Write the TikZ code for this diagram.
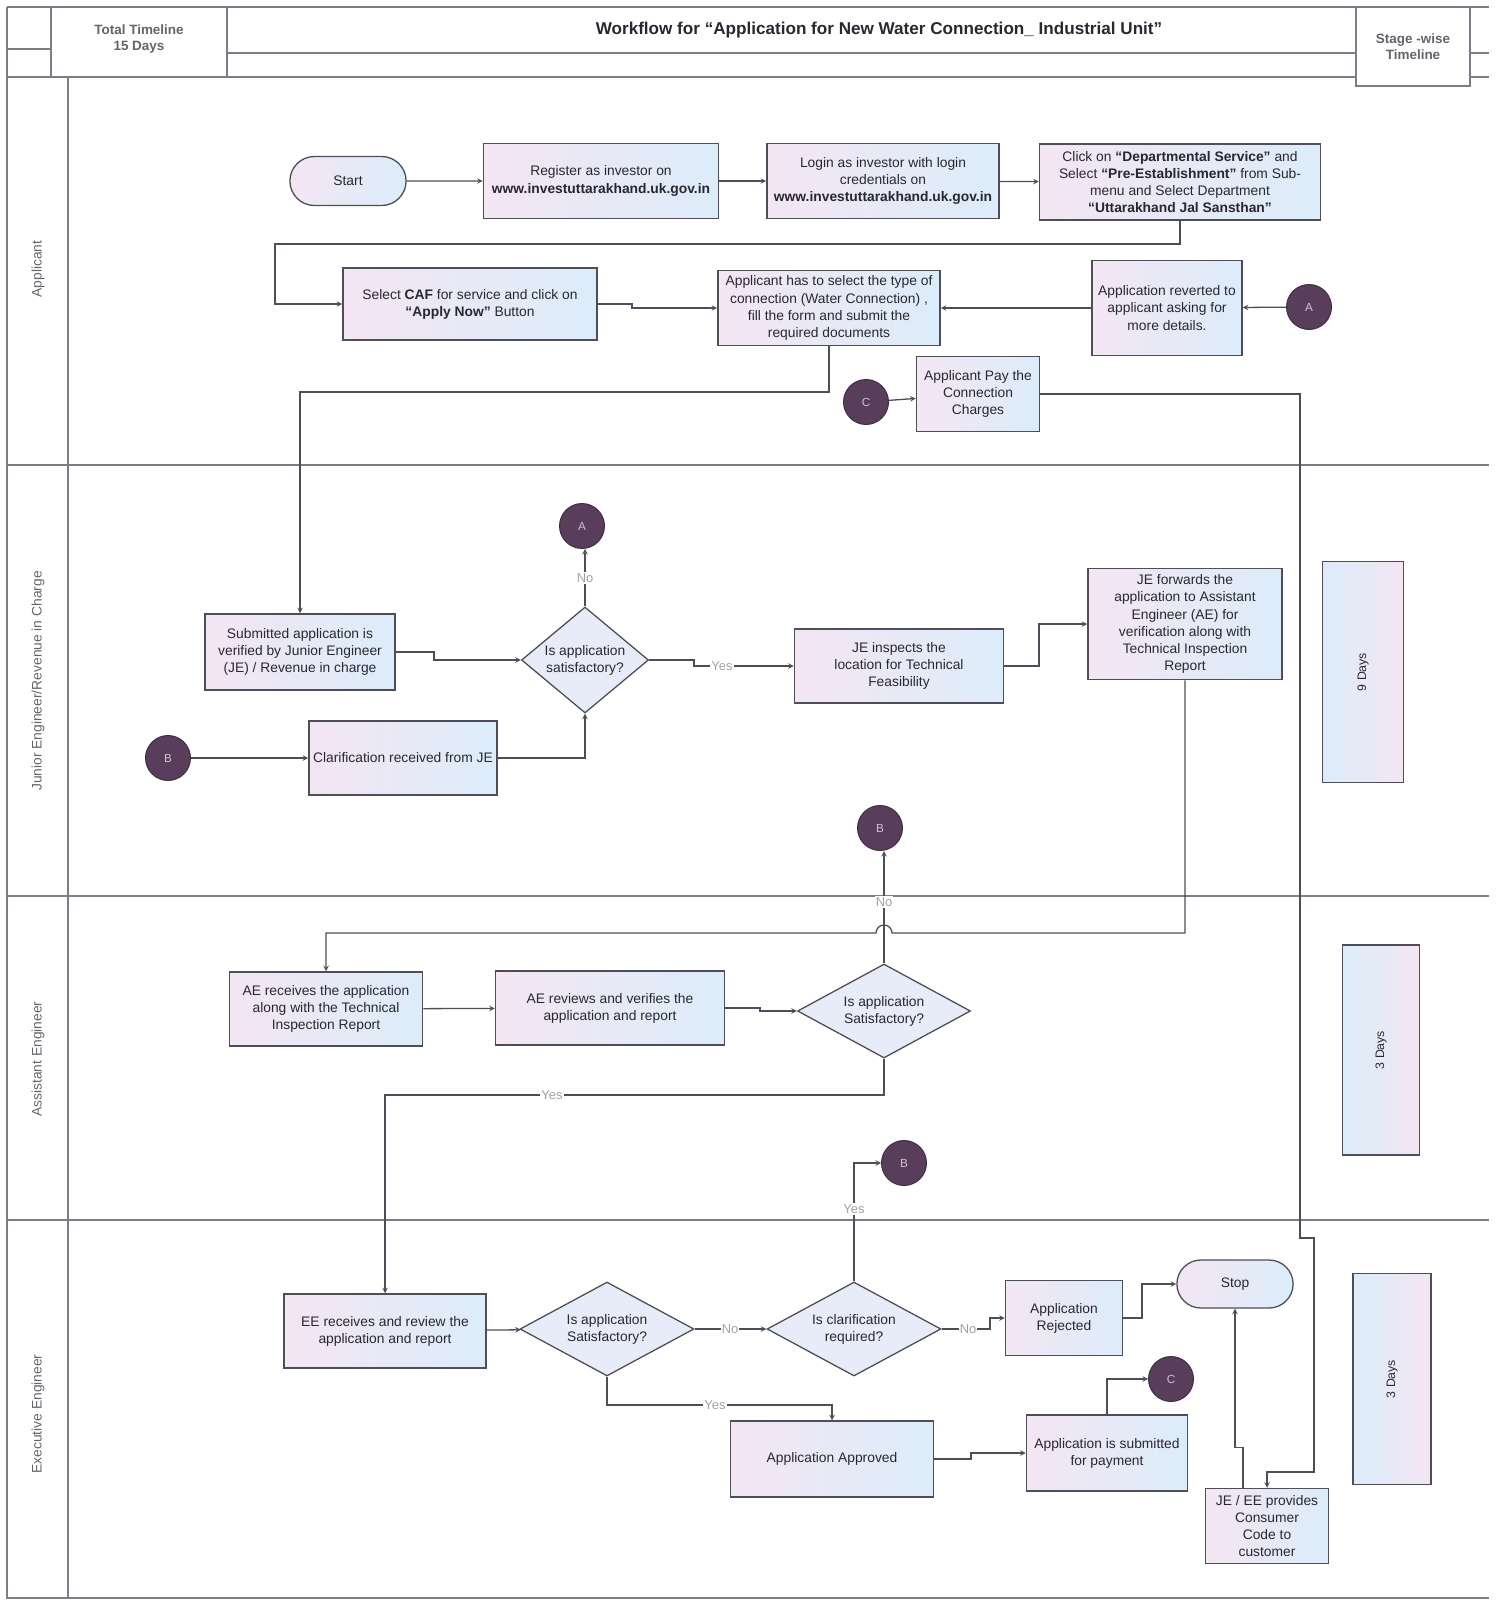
\documentclass[tikz,border=0pt]{standalone}
\usepackage{fontspec}
\setmainfont{Liberation Sans}
\usetikzlibrary{arrows, shapes.geometric, shapes.misc}
\tikzset{>=stealth}

\definecolor{linec}{RGB}{78,78,88}
\definecolor{framec}{RGB}{125,125,135}
\definecolor{boxpink}{RGB}{244,230,243}
\definecolor{boxblue}{RGB}{220,236,250}
\definecolor{decfill}{RGB}{232,236,248}
\definecolor{circ}{RGB}{88,62,90}
\definecolor{circdark}{RGB}{60,45,62}
\definecolor{circtxt}{RGB}{205,195,210}
\definecolor{txt}{RGB}{40,40,48}
\definecolor{ylab}{RGB}{160,160,168}
\definecolor{headc}{RGB}{100,100,108}

\newcommand\boxfont{\fontsize{11.8}{14.6}\selectfont}
\newcommand\titlefont{\fontsize{14.6}{17}\selectfont\bfseries}
\newcommand\headfont{\fontsize{11.5}{14}\selectfont\bfseries}
\newcommand\lanefont{\fontsize{11.8}{14}\selectfont}
\newcommand\daysfont{\fontsize{10.5}{12}\selectfont}
\newcommand\circfont{\fontsize{10}{12}\selectfont}
\newcommand\ynfont{\fontsize{11}{12}\selectfont}

\tikzset{
  box/.style={draw=linec, line width=1.3pt, left color=boxpink, right color=boxblue,
    align=center, inner sep=1pt, text=txt, font=\boxfont},
  decision/.style={diamond, draw=linec, line width=1.1pt, fill=decfill,
    align=center, inner sep=0pt, text=txt, font=\boxfont},
  term/.style={rounded rectangle, draw=linec, line width=1.1pt, left color=boxpink,
    right color=boxblue, text=txt, font=\boxfont},
  conn/.style={circle, draw=circdark, line width=0.8pt, fill=circ, minimum size=1.35cm,
    inner sep=0pt, text=circtxt, font=\circfont},
  days/.style={draw=linec, line width=1.3pt, left color=boxblue, right color=boxpink,
    rotate=90, text=txt, font=\daysfont},
  lane/.style={rotate=90, text=headc, font=\lanefont},
  yn/.style={fill=white, inner sep=1pt, text=ylab, font=\ynfont},
  flow/.style={->, draw=linec, line width=1.1pt},
  frame/.style={draw=framec, line width=1pt}
}

\begin{document}
\begin{tikzpicture}[x=0.03cm, y=-0.03cm]
    \useasboundingbox (0,0) rectangle (1498,1601);
    % header and lanes
    \draw [frame] (7,7) -- (1489,7);
    \draw [frame] (7,7) -- (7,1598) -- (1489,1598);
    \draw [frame] (51,7) -- (51,77);
    \draw [frame] (7,49) -- (51,49);
    \draw [frame] (227,7) -- (227,77);
    \draw [frame] (227,53) -- (1489,53);
    \draw [frame] (7,77) -- (1489,77);
    \draw [frame] (68,77) -- (68,1598);
    \draw [frame] (7,465) -- (1489,465);
    \draw [frame] (7,896) -- (1489,896);
    \draw [frame] (7,1220) -- (1489,1220);
    \node [font=\headfont, text=headc, align=center] (total) at (139,39) {Total Timeline\\15 Days};
    \node [font=\titlefont, text=txt] (title) at (879,30) {Workflow for “Application for New Water Connection\_ Industrial Unit”};
    \node [draw=framec, line width=1pt, fill=white, minimum width=3.42cm, minimum height=2.37cm,
      align=center, font=\headfont, text=headc] (stage) at (1413,46.5) {Stage -wise\\Timeline};
    \node [lane] (lapp) at (38,269) {Applicant};
    \node [lane] (lje) at (38,681) {Junior Engineer/Revenue in Charge};
    \node [lane] (lae) at (38,1059) {Assistant Engineer};
    \node [lane] (lee) at (38,1414) {Executive Engineer};

    % applicant
    \node [term, minimum width=3.72cm, minimum height=1.47cm] (start) at (348,181) {Start};
    \node [box, minimum width=7.05cm, minimum height=2.25cm] (reg) at (601,181)
      {Register as investor on\\\textbf{www.investuttarakhand.uk.gov.in}};
    \node [box, minimum width=6.96cm, minimum height=2.25cm] (login) at (883,181)
      {Login as investor with login\\credentials on\\\textbf{www.investuttarakhand.uk.gov.in}};
    \node [box, minimum width=8.43cm, minimum height=2.28cm] (click) at (1180,182)
      {Click on \textbf{“Departmental Service”} and\\Select \textbf{“Pre-Establishment”} from Sub-\\menu and Select Department\\\textbf{“Uttarakhand Jal Sansthan”}};
    \node [box, minimum width=7.62cm, minimum height=2.16cm] (caf) at (470,304)
      {Select \textbf{CAF} for service and click on\\\textbf{“Apply Now”} Button};
    \node [box, minimum width=6.66cm, minimum height=2.25cm] (apply) at (829,308)
      {Applicant has to select the type of\\connection (Water Connection) ,\\fill the form and submit the\\required documents};
    \node [box, minimum width=4.5cm, minimum height=2.85cm] (revert) at (1167,308)
      {Application reverted to\\applicant asking for\\more details.};
    \node [conn] (ca1) at (1309,307) {A};
    \node [conn] (cc1) at (866,402) {C};
    \node [box, minimum width=3.69cm, minimum height=2.25cm] (pay) at (978,394)
      {Applicant Pay the\\Connection\\Charges};

    % junior engineer
    \node [conn] (ca2) at (582,526) {A};
    \node [box, minimum width=5.7cm, minimum height=2.28cm] (subm) at (300,652)
      {Submitted application is\\verified by Junior Engineer\\(JE) / Revenue in charge};
    \node [decision, aspect=1.2, minimum width=3.81cm, minimum height=3.18cm] (dec1) at (585,660)
      {Is application\\satisfactory?};
    \node [box, minimum width=6.27cm, minimum height=2.22cm] (insp) at (899,666)
      {JE inspects the\\location for Technical\\Feasibility};
    \node [box, minimum width=5.82cm, minimum height=3.33cm] (fwd) at (1185,624)
      {JE forwards the\\application to Assistant\\Engineer (AE) for\\verification along with\\Technical Inspection\\Report};
    \node [conn] (cb1) at (168,758) {B};
    \node [box, minimum width=5.64cm, minimum height=2.22cm] (clar) at (403,758)
      {Clarification received from JE};
    \node [conn] (cb2) at (880,828) {B};
    \node [days, minimum width=6.63cm, minimum height=2.43cm] (d9) at (1363,672) {9 Days};

    % assistant engineer
    \node [box, minimum width=5.79cm, minimum height=2.22cm] (aerec) at (326,1009)
      {AE receives the application\\along with the Technical\\Inspection Report};
    \node [box, minimum width=6.87cm, minimum height=2.22cm] (aerev) at (610,1008)
      {AE reviews and verifies the\\application and report};
    \node [decision, aspect=1.85, minimum width=5.19cm, minimum height=2.82cm] (dec2) at (884,1011)
      {Is application\\Satisfactory?};
    \node [days, minimum width=6.3cm, minimum height=2.31cm] (d3a) at (1381,1050) {3 Days};

    % executive engineer
    \node [conn] (cb3) at (904,1163) {B};
    \node [box, minimum width=6.06cm, minimum height=2.22cm] (eerec) at (385,1331)
      {EE receives and review the\\application and report};
    \node [decision, aspect=1.85, minimum width=5.22cm, minimum height=2.82cm] (dec3) at (607,1329)
      {Is application\\Satisfactory?};
    \node [decision, aspect=1.85, minimum width=5.22cm, minimum height=2.82cm] (dec4) at (854,1329)
      {Is clarification\\required?};
    \node [box, minimum width=3.51cm, minimum height=2.25cm] (rej) at (1064,1318)
      {Application\\Rejected};
    \node [term, minimum width=3.72cm, minimum height=1.44cm] (stop) at (1235,1284) {Stop};
    \node [box, minimum width=6.09cm, minimum height=2.28cm] (appr) at (832,1459)
      {Application Approved};
    \node [box, minimum width=4.83cm, minimum height=2.28cm] (subpay) at (1107,1453)
      {Application is submitted\\for payment};
    \node [conn] (cc2) at (1171,1379) {C};
    \node [box, minimum width=3.69cm, minimum height=2.25cm] (jeee) at (1267,1526)
      {JE / EE provides\\Consumer\\Code to\\customer};
    \node [days, minimum width=6.33cm, minimum height=2.34cm] (d3e) at (1392,1379) {3 Days};

    % connectors
    \draw [flow] (start) -- (reg);
    \draw [flow] (reg) -- (login);
    \draw [flow] (login) -- (click);
    \draw [flow] (click.south) -- (click.south |- 0,244) -- (275,244) |- (caf.west);
    \draw [flow] (caf.east) -- (632,304) |- (apply.west);
    \draw [flow] (ca1) -- (revert);
    \draw [flow] (revert) -- (apply);
    \draw [flow] (apply.south) -- (apply.south |- 0,392) -| (subm.north);
    \draw [flow] (cc1) -- (pay);
    \draw [flow] (pay.east) -| (1300,1238) -- (1314,1238) -- (1314,1472) -| (jeee.north);

    \draw [flow] (subm.east) -- (434,652) |- (dec1.west);
    \draw [flow] (dec1.north) -- (dec1.north |- ca2.south);
    \node [yn] (no1) at (585,578) {No};
    \draw [flow] (dec1.east) -- (694,660) |- (insp.west);
    \node [yn] (yes1) at (722,666) {Yes};
    \draw [flow] (insp.east) -- (1039,666) |- (fwd.west);
    \draw [flow] (cb1) -- (clar);
    \draw [flow] (clar.east) -| (dec1.south);

    \draw [flow] (fwd.south) -- (1185,933) -- (892,933) arc [start angle=0, end angle=-180, radius=8]
      -- (326,933) -- (aerec.north);
    \draw [flow] (aerec) -- (aerev);
    \draw [flow] (aerev.east) -- (760,1008) |- (dec2.west);
    \draw [flow] (dec2.north) -- (dec2.north |- cb2.south);
    \node [yn] (no2) at (884,902) {No};
    \draw [flow] (dec2.south) -- (dec2.south |- 0,1095) -| (eerec.north);
    \node [yn] (yes2) at (552,1095) {Yes};

    \draw [flow] (eerec) -- (dec3);
    \draw [flow] (dec3) -- (dec4);
    \node [yn] (no3) at (730,1329) {No};
    \draw [flow] (dec4.north) |- (cb3.west);
    \node [yn] (yes3) at (854,1209) {Yes};
    \draw [flow] (dec4.east) -- (990,1329) |- (rej.west);
    \node [yn] (no4) at (968,1329) {No};
    \draw [flow] (rej.east) -- (1142,1318) |- (stop.west);
    \draw [flow] (dec3.south) -- (dec3.south |- 0,1405) -| (appr.north);
    \node [yn] (yes4) at (715,1405) {Yes};
    \draw [flow] (appr.east) -- (971,1459) |- (subpay.west);
    \draw [flow] (subpay.north) |- (cc2.west);
    \draw [flow] (jeee.north) ++(-24,0) -- ++(0,-40) -| (stop.south);
\end{tikzpicture}
\end{document}
